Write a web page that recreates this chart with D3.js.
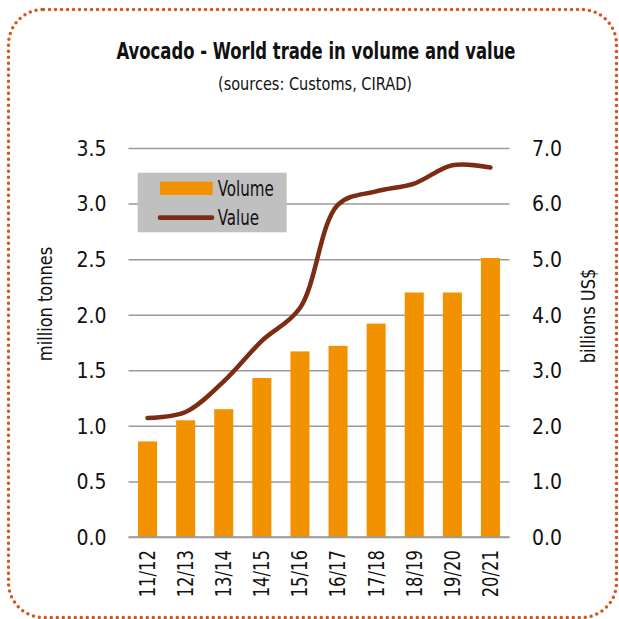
<!DOCTYPE html>
<html>
<head>
<meta charset="utf-8">
<script src="https://cdn.jsdelivr.net/npm/d3@7"></script>
<style>
  body { margin: 0; background: #fff; }
  svg text { font-family: "DejaVu Sans Condensed", "Liberation Sans Narrow", "Roboto", sans-serif; fill: #111; }
</style>
</head>
<body>
<svg id="chart" width="619" height="619"></svg>
<script>

// Data
var seasons = ['11/12', '12/13', '13/14', '14/15', '15/16', '16/17', '17/18', '18/19', '19/20', '20/21'];
var volume = [0.86, 1.05, 1.15, 1.43, 1.67, 1.72, 1.92, 2.20, 2.20, 2.51];   // million tonnes
var value = [2.14, 2.25, 2.80, 3.53, 4.12, 5.98, 6.22, 6.36, 6.69, 6.65];    // billions US$
var leftTicks = [0, 0.5, 1, 1.5, 2, 2.5, 3, 3.5];
var rightTicks = [0, 1, 2, 3, 4, 5, 6, 7];

var svg = d3.select('#chart');

// Squeeze text horizontally to look like a condensed face
var condense = function(sel, factor) {
    sel.each(function() {
        var len = this.getComputedTextLength();
        d3.select(this)
            .attr('textLength', len * factor)
            .attr('lengthAdjust', 'spacingAndGlyphs');
    });
};

// Plot area
var margin = {top: 148, left: 128.5, right: 509.5, bottom: 537};

// Dotted rounded frame
svg.append('rect')
    .attr('x', 8.5)
    .attr('y', 9.5)
    .attr('width', 608)
    .attr('height', 608)
    .attr('rx', 35)
    .attr('fill', 'none')
    .attr('stroke', '#d4561c')
    .attr('stroke-width', 3.5)
    .attr('stroke-dasharray', '0 6')
    .attr('stroke-linecap', 'round');

// Title
var title = svg.append('text')
    .attr('x', 316)
    .attr('y', 59)
    .attr('text-anchor', 'middle')
    .style('font-size', '23px')
    .style('font-weight', 'bold')
    .text('Avocado - World trade in volume and value');
title.attr('textLength', 399).attr('lengthAdjust', 'spacingAndGlyphs');

var subtitle = svg.append('text')
    .attr('x', 315)
    .attr('y', 90)
    .attr('text-anchor', 'middle')
    .style('font-size', '18px')
    .text('(sources: Customs, CIRAD)');
subtitle.attr('textLength', 194).attr('lengthAdjust', 'spacingAndGlyphs');

// Scales
var x = d3.scaleBand().domain(seasons)
    .range([margin.left, margin.right])
    .paddingInner(0.5).paddingOuter(0.25);
var yLeft = d3.scaleLinear().domain([0, 3.5]).range([margin.bottom, margin.top]);
var yRight = d3.scaleLinear().domain([0, 7]).range([margin.bottom, margin.top]);

// Left axis with gridlines
var leftAxis = svg.append('g')
    .attr('transform', 'translate(' + margin.left + ',0)')
    .call(d3.axisLeft(yLeft).tickValues(leftTicks).tickFormat(d3.format('.1f'))
        .tickSizeInner(-(margin.right - margin.left)).tickSizeOuter(0).tickPadding(22));
leftAxis.select('.domain').remove();
leftAxis.selectAll('line').attr('stroke', '#9a9a9a').attr('stroke-width', 1.5);
leftAxis.selectAll('text').style('font-size', '21px').attr('dy', '0.35em');

// Right axis
var rightAxis = svg.append('g')
    .attr('transform', 'translate(' + margin.right + ',0)')
    .call(d3.axisRight(yRight).tickValues(rightTicks).tickFormat(d3.format('.1f'))
        .tickSize(0).tickPadding(22.5));
rightAxis.select('.domain').remove();
rightAxis.selectAll('text').style('font-size', '21px').attr('dy', '0.35em');

// Bars
svg.append('g')
    .selectAll('rect')
    .data(volume)
    .enter()
    .append('rect')
    .attr('x', function(d, i) { return x(seasons[i]); })
    .attr('y', function(d) { return yLeft(d); })
    .attr('width', x.bandwidth())
    .attr('height', function(d) { return yLeft(0) - yLeft(d); })
    .attr('fill', '#f39200');

// Baseline drawn again over bars
svg.append('line')
    .attr('x1', margin.left).attr('x2', margin.right)
    .attr('y1', yLeft(0)).attr('y2', yLeft(0))
    .attr('stroke', '#9a9a9a').attr('stroke-width', 1.5);

// Bottom axis with rotated labels
var bottomAxis = svg.append('g')
    .attr('transform', 'translate(0,' + margin.bottom + ')')
    .call(d3.axisBottom(x).tickSize(0).tickPadding(0));
bottomAxis.select('.domain').remove();
bottomAxis.selectAll('text')
    .style('font-size', '21px')
    .attr('text-anchor', 'end')
    .attr('transform', 'translate(0,13) rotate(-90)')
    .attr('dy', '0.35em')
    .attr('y', 0)
    .attr('x', 0)
    .call(condense, 0.87);

// Value line
var line = d3.line()
    .x(function(d, i) { return x(seasons[i]) + x.bandwidth() / 2; })
    .y(function(d) { return yRight(d); })
    .curve(d3.curveCatmullRom);

svg.append('path')
    .datum(value)
    .attr('d', line)
    .attr('fill', 'none')
    .attr('stroke', '#7b2c12')
    .attr('stroke-width', 4.5)
    .attr('stroke-linecap', 'round')
    .attr('stroke-linejoin', 'round');

// Axis titles
svg.append('text')
    .attr('transform', 'translate(45,304) rotate(-90)')
    .attr('text-anchor', 'middle')
    .attr('dy', '0.35em')
    .style('font-size', '20px')
    .text('million tonnes')
    .call(condense, 0.9);

svg.append('text')
    .attr('transform', 'translate(588,316) rotate(-90)')
    .attr('text-anchor', 'middle')
    .attr('dy', '0.35em')
    .style('font-size', '20px')
    .text('billions US$')
    .call(condense, 0.9);

// Legend
var legend = svg.append('g');
legend.append('rect')
    .attr('x', 137.7).attr('y', 172.7)
    .attr('width', 149).attr('height', 59.6)
    .attr('fill', '#c0c0c0');
legend.append('rect')
    .attr('x', 160).attr('y', 181.7)
    .attr('width', 52.7).attr('height', 13.3)
    .attr('fill', '#f39200');
legend.append('line')
    .attr('x1', 160).attr('x2', 212)
    .attr('y1', 217.7).attr('y2', 217.7)
    .attr('stroke', '#7b2c12').attr('stroke-width', 4.7)
    .attr('stroke-linecap', 'round');
legend.append('text')
    .attr('x', 217.7).attr('y', 196)
    .style('font-size', '21px')
    .text('Volume')
    .call(condense, 0.8);
legend.append('text')
    .attr('x', 217.7).attr('y', 225)
    .style('font-size', '21px')
    .text('Value')
    .call(condense, 0.8);

</script>
</body>
</html>
